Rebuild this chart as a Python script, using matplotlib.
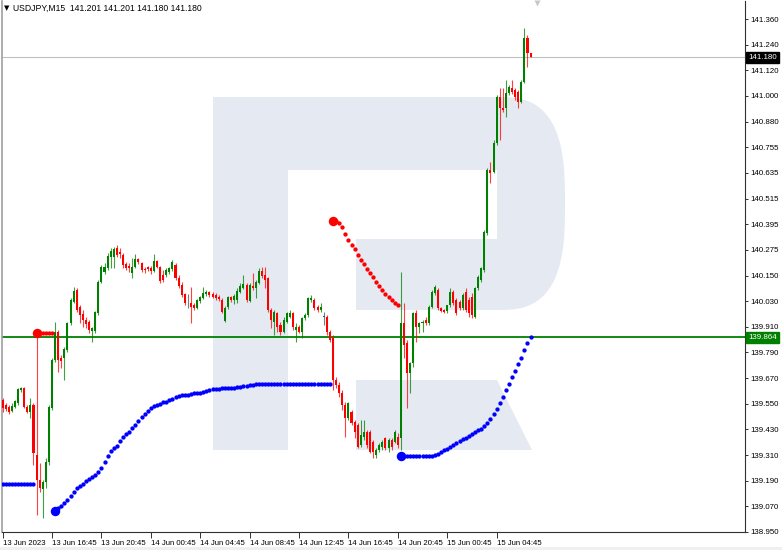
import matplotlib
matplotlib.use("Agg")
import matplotlib.pyplot as plt
from matplotlib.patches import Polygon, Rectangle
import numpy as np

plt.rcParams['font.family'] = ['Liberation Sans', 'DejaVu Sans']

# ---------------- data (USDJPY M15) ----------------
opens = [
 139.570,139.547,139.539,139.519,139.539,139.555,139.617,139.625,139.539,139.516,
 139.547,139.312,139.195,139.152,139.187,139.281,139.531,139.758,139.891,139.766,
 139.766,139.805,139.930,140.032,140.087,140.009,139.973,139.946,139.935,139.894,
 139.894,139.978,140.126,140.170,140.189,140.244,140.244,140.283,140.267,140.251,
 140.208,140.201,140.165,140.194,140.233,140.212,140.184,140.194,140.192,140.176,
 140.223,140.197,140.158,140.158,140.170,140.184,140.204,140.145,140.111,140.067,
 140.025,140.028,140.017,140.004,140.035,140.051,140.067,140.076,140.067,140.064,
 140.054,140.040,139.942,140.007,140.056,140.040,140.040,140.079,140.098,140.111,
 140.035,140.107,140.098,140.118,140.176,140.158,140.142,139.993,139.938,139.978,
 139.923,139.891,139.938,139.962,139.978,139.899,139.915,139.891,139.954,139.970,
 140.040,140.040,140.009,139.993,139.962,139.962,139.891,139.860,139.664,139.641,
 139.602,139.547,139.484,139.516,139.469,139.453,139.359,139.398,139.422,139.422,
 139.375,139.312,139.336,139.351,139.390,139.344,139.383,139.375,139.398,139.390,
 139.930,139.836,139.696,139.743,139.977,139.915,139.930,139.946,139.930,140.009,
 140.071,140.087,140.001,139.993,139.988,140.016,140.079,140.040,140.032,140.001,
 140.079,140.040,140.056,139.962,140.095,140.134,140.181,140.353,140.651,140.643,
 140.776,140.995,140.940,140.940,141.011,141.034,141.027,141.019,140.972,141.066,
 141.269,141.201]
highs = [
 139.581,139.555,139.547,139.555,139.570,139.628,139.633,139.633,139.547,139.578,
 139.555,139.891,139.273,139.195,139.296,139.547,139.766,139.938,139.899,139.782,
 139.821,139.938,140.048,140.103,140.095,140.017,139.993,139.962,139.946,139.915,
 139.988,140.134,140.204,140.212,140.259,140.283,140.291,140.298,140.283,140.259,
 140.220,140.212,140.236,140.256,140.236,140.220,140.194,140.201,140.201,140.255,
 140.228,140.201,140.181,140.189,140.197,140.228,140.212,140.158,140.126,140.071,
 140.067,140.103,140.024,140.043,140.059,140.103,140.087,140.082,140.076,140.071,
 140.064,140.048,140.013,140.060,140.060,140.067,140.095,140.118,140.158,140.118,
 140.118,140.165,140.134,140.189,140.197,140.197,140.150,140.001,139.993,139.985,
 139.938,139.962,139.985,139.993,139.985,139.931,139.923,139.962,139.978,140.056,
 140.064,140.048,140.017,140.024,139.985,139.970,139.899,139.876,139.680,139.657,
 139.617,139.563,139.563,139.524,139.477,139.461,139.477,139.477,139.430,139.430,
 139.383,139.344,139.367,139.383,139.398,139.390,139.390,139.430,139.414,140.173,
 140.024,139.852,139.750,139.985,139.993,139.938,139.946,139.962,140.017,140.087,
 140.111,140.095,140.009,139.998,140.017,140.095,140.087,140.048,140.040,140.071,
 140.095,140.056,140.071,140.103,140.158,140.197,140.369,140.659,140.690,140.792,
 141.003,141.034,141.034,141.073,141.050,141.073,141.034,141.027,141.073,141.316,
 141.285,141.201]
lows = [
 139.516,139.519,139.505,139.513,139.531,139.547,139.610,139.531,139.508,139.484,
 139.265,139.030,139.140,139.015,139.156,139.265,139.523,139.750,139.703,139.719,
 139.664,139.797,139.923,140.024,139.985,139.930,139.915,139.907,139.884,139.844,
 139.884,139.970,140.118,140.161,140.181,140.189,140.189,140.244,140.236,140.189,
 140.181,140.173,140.145,140.189,140.208,140.173,140.165,140.176,140.161,140.173,
 140.189,140.118,140.126,140.150,140.161,140.176,140.134,140.098,140.056,140.017,
 140.001,139.930,139.993,139.998,140.028,140.045,140.060,140.056,140.048,140.040,
 140.035,139.978,139.935,139.998,140.032,140.020,140.024,140.071,140.092,140.032,
 140.029,140.087,140.048,140.114,140.145,140.095,139.985,139.907,139.876,139.891,
 139.876,139.884,139.931,139.954,139.899,139.844,139.884,139.860,139.946,139.962,
 140.032,139.993,139.985,139.985,139.923,139.876,139.844,139.617,139.625,139.586,
 139.524,139.398,139.477,139.453,139.390,139.344,139.351,139.383,139.344,139.320,
 139.296,139.296,139.328,139.336,139.336,139.328,139.336,139.367,139.343,139.336,
 139.766,139.531,139.602,139.727,139.844,139.884,139.891,139.923,139.923,140.001,
 140.064,139.993,139.985,139.978,139.978,140.009,140.016,139.970,139.993,139.993,
 139.985,139.962,139.954,139.954,140.087,140.126,140.173,140.345,140.588,140.635,
 140.768,140.792,140.925,140.901,141.003,141.008,140.980,140.940,140.964,141.058,
 141.136,141.180]
closes = [
 139.531,139.528,139.516,139.544,139.566,139.622,139.628,139.539,139.516,139.547,
 139.320,139.195,139.156,139.187,139.281,139.539,139.758,139.891,139.758,139.754,
 139.810,139.930,140.040,140.082,139.993,139.970,139.946,139.926,139.899,139.907,
 139.985,140.126,140.197,140.197,140.248,140.270,140.280,140.251,140.255,140.204,
 140.189,140.189,140.197,140.233,140.217,140.181,140.183,140.184,140.176,140.223,
 140.197,140.129,140.134,140.181,140.189,140.220,140.142,140.107,140.064,140.024,
 140.025,140.009,140.004,140.039,140.054,140.071,140.079,140.064,140.054,140.048,
 140.043,139.985,140.004,140.054,140.040,140.060,140.084,140.107,140.114,140.040,
 140.111,140.095,140.126,140.178,140.154,140.134,139.993,139.946,139.985,139.915,
 139.891,139.946,139.978,139.978,139.915,139.915,139.891,139.954,139.970,140.048,
 140.048,140.001,139.993,140.009,139.962,139.891,139.852,139.664,139.641,139.602,
 139.547,139.484,139.555,139.461,139.422,139.351,139.406,139.422,139.359,139.328,
 139.328,139.336,139.359,139.375,139.344,139.383,139.351,139.422,139.359,139.930,
 139.830,139.696,139.743,139.977,139.915,139.930,139.938,139.930,140.009,140.079,
 140.103,140.001,139.988,139.985,140.016,140.079,140.024,139.977,140.001,140.064,
 139.993,139.978,139.970,140.095,140.147,140.189,140.361,140.651,140.635,140.776,
 140.995,140.940,140.933,141.011,141.042,141.019,140.995,140.972,141.066,141.269,
 141.199,141.180]

# Parabolic SAR segments (first bar index of segment, values)
sar_blue_1_start = 0
sar_blue_1 = [139.176,139.176,139.176,139.176,139.176,139.176,139.176,139.176,139.176,139.176,139.176]
sar_red_1_start = 11
sar_red_1 = [139.887,139.887,139.887,139.887,139.887,139.887]
sar_blue_2_start = 17
sar_blue_2 = [
 139.049,139.061,139.070,139.087,139.101,139.120,139.138,139.155,139.166,139.176,
 139.190,139.199,139.209,139.220,139.232,139.251,139.279,139.307,139.331,139.345,
 139.354,139.378,139.394,139.411,139.422,139.439,139.455,139.472,139.491,139.505,
 139.519,139.533,139.542,139.547,139.552,139.559,139.563,139.570,139.577,139.584,
 139.589,139.592,139.592,139.594,139.599,139.601,139.603,139.603,139.608,139.613,
 139.617,139.620,139.622,139.622,139.625,139.625,139.627,139.627,139.627,139.629,
 139.632,139.634,139.636,139.639,139.641,139.643,139.646,139.646,139.646,139.646,
 139.646,139.646,139.646,139.646,139.646,139.646,139.646,139.646,139.646,139.646,
 139.646,139.646,139.646,139.646,139.646,139.646,139.646,139.646,139.646,139.646]
sar_red_2_start = 107
sar_red_2 = [
 140.413,140.411,140.403,140.383,140.350,140.320,140.298,140.280,140.251,140.230,
 140.209,140.186,140.167,140.146,140.125,140.106,140.087,140.068,140.052,140.038,
 140.026,140.015]
sar_blue_3_start = 129
sar_blue_3 = [
 139.307,139.307,139.307,139.307,139.307,139.307,139.307,139.307,139.307,139.307,
 139.307,139.312,139.317,139.324,139.333,139.340,139.350,139.357,139.366,139.376,
 139.385,139.392,139.399,139.411,139.420,139.427,139.434,139.446,139.460,139.481,
 139.505,139.528,139.554,139.584,139.617,139.643,139.676,139.707,139.737,139.768,
 139.805,139.838,139.866]

time_labels = ["13 Jun 2023", "13 Jun 16:45", "13 Jun 20:45", "14 Jun 00:45",
               "14 Jun 04:45", "14 Jun 08:45", "14 Jun 12:45", "14 Jun 16:45",
               "14 Jun 20:45", "15 Jun 00:45", "15 Jun 04:45"]
bars_per_label = 16
price_labels = ["141.360", "141.240", "141.120", "141.000", "140.880", "140.755",
                "140.635", "140.515", "140.395", "140.275", "140.150", "140.030",
                "139.910", "139.790", "139.670", "139.550", "139.430", "139.310",
                "139.190", "139.070", "138.950"]
price_top, price_bottom = 141.360, 138.950
current_price = 141.180
sar_level = 139.864
title = "USDJPY,M15  141.201 141.201 141.180 141.180"

# ---------------- figure ----------------
W, H = 782, 550
fig = plt.figure(figsize=(W / 100, H / 100), dpi=100, facecolor='white')

# background / watermark layer in pixel coordinates
bg = fig.add_axes([0, 0, 1, 1], zorder=0)
bg.set_xlim(0, W)
bg.set_ylim(H, 0)
bg.axis('off')
wm = '#E5EAF2'
th = np.linspace(np.pi / 2, -np.pi / 2, 60)
cx, cy, rx, ry = 497, 203.5, 68, 106.5
ex = np.sign(np.cos(th)) * np.abs(np.cos(th)) ** 0.7 * rx + cx
ey = -np.sign(np.sin(th)) * np.abs(np.sin(th)) ** 0.7 * ry + cy
upper = [(213, 97), (497, 97)] + list(zip(ex, ey)) + [
    (497, 310), (356, 310), (356, 239), (497, 239), (497, 170),
    (288, 170), (288, 450), (213, 450)]
bg.add_patch(Polygon(upper, closed=True, facecolor=wm, edgecolor='none'))
bg.add_patch(Polygon([(356, 380), (497, 380), (532, 450), (356, 450)],
                     closed=True, facecolor=wm, edgecolor='none'))
bg.add_patch(Rectangle((0, 547), W, 3, facecolor='#F0F0F0', edgecolor='none'))
bg.plot([537], [3], marker='v', ms=5, color='#C8C8C8', mec='none')

# main chart axes
left_px, right_px, top_px, bottom_px = 2, 745, 1, 532
ax = fig.add_axes([left_px / W, (H - bottom_px) / H,
                   (right_px - left_px) / W, (bottom_px - top_px) / H], zorder=2)
ax.set_facecolor('none')
px_per_bar = 3.0875
xmin = -0.2
ax.set_xlim(xmin, xmin + (right_px - left_px) / px_per_bar)
px_per_price = (532 - 19) / (price_top - price_bottom)
ax.set_ylim(price_top - (bottom_px - 19) / px_per_price,
            price_top + (19 - top_px) / px_per_price)

# reference lines
ax.axhline(current_price, color='#C0C0C0', lw=0.8, zorder=1)
ax.axhline(sar_level, color='#008000', lw=1.3, zorder=1)

# candles
green, red, gray = '#008000', '#FF0000', '#505050'
n = len(closes)
idx = np.arange(n)
o = np.array(opens); c = np.array(closes); h = np.array(highs); l = np.array(lows)
cols = np.where(c > o, green, np.where(c < o, red, gray))
ax.vlines(idx, l, h, colors=cols, lw=0.8, zorder=3, alpha=0.75)
body_lo = np.minimum(o, c)
body_h = np.maximum(np.abs(c - o), 0.003)
ax.bar(idx, body_h, bottom=body_lo, width=0.66, color=cols, zorder=4, linewidth=0)

# parabolic SAR
def sar(start, vals, color, big_first=True):
    xs = np.arange(start, start + len(vals))
    first = 1 if big_first else 0
    ax.plot(xs[first:], vals[first:], 'o', ms=3.1, color=color, mec='none', zorder=5)
    if big_first:
        ax.plot(xs[:1], vals[:1], 'o', ms=6.8, color=color, mec='none', zorder=5)

sar(sar_blue_1_start, sar_blue_1, '#0000FF', big_first=False)
sar(sar_red_1_start, sar_red_1, '#FF0000')
sar(sar_blue_2_start, sar_blue_2, '#0000FF')
sar(sar_red_2_start, sar_red_2, '#FF0000')
sar(sar_blue_3_start, sar_blue_3, '#0000FF')

# axes styling
ax.spines['top'].set_visible(False)
ax.spines['left'].set_color('#A0A0A0')
ax.spines['left'].set_linewidth(1.2)
ax.spines['bottom'].set_color('#303030')
ax.spines['right'].set_color('#303030')
ax.spines['bottom'].set_linewidth(0.8)
ax.spines['right'].set_linewidth(0.8)

ax.set_xticks(np.arange(len(time_labels)) * bars_per_label)
ax.set_xticklabels(time_labels, ha='left', fontsize=5.6)
ax.tick_params(axis='x', direction='out', length=4, width=0.7, pad=1.5,
               color='#303030', labelcolor='black')

ytick_vals = np.linspace(price_top, price_bottom, len(price_labels))
ax.yaxis.tick_right()
ax.set_yticks(ytick_vals)
ax.set_yticklabels(price_labels, fontsize=5.7)
ax.tick_params(axis='y', direction='out', length=2.5, width=0.7, pad=1.2,
               color='#303030', labelcolor='black')

# highlighted price labels
def tag(price, face):
    ax.annotate(f"{price:.3f}", xy=(1.0, price), xycoords=('axes fraction', 'data'),
                xytext=(2.4, 0), textcoords='offset points', va='center', ha='left',
                fontsize=5.7, color='white',
                bbox=dict(boxstyle='square,pad=0.25', fc=face, ec=face), zorder=10,
                annotation_clip=False)

tag(current_price, 'black')
tag(sar_level, '#008000')

# title
fig.text(4 / W, 1 - 8 / H, "\u25BC", fontsize=5, va='center', ha='left',
         family=['DejaVu Sans'])
fig.text(13 / W, 1 - 8 / H, title, fontsize=6.2, va='center', ha='left')

fig.savefig('out.png', dpi=100, facecolor='white')
